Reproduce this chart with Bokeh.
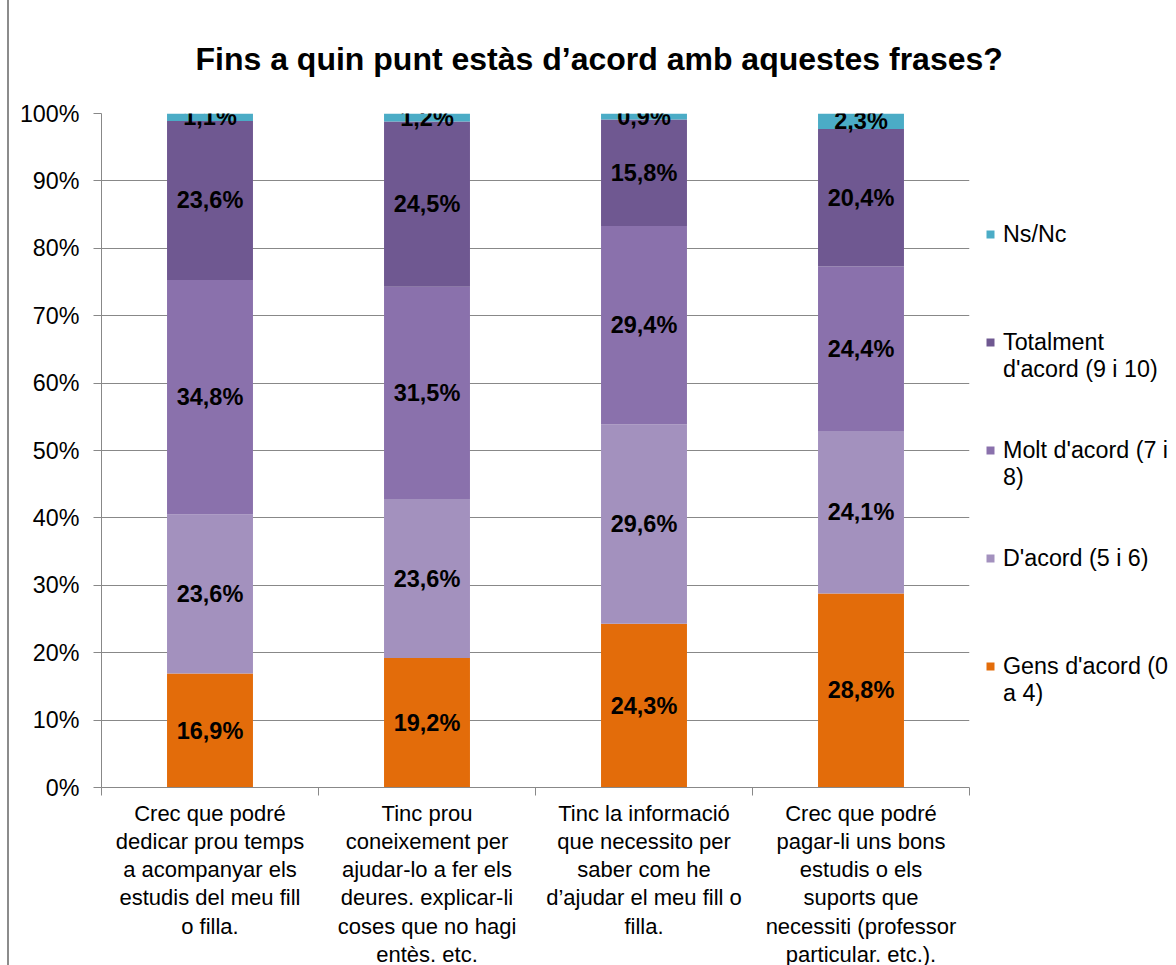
import numpy as np
from bokeh.plotting import figure
from bokeh.models import (Legend, LegendItem, FixedTicker, PrintfTickFormatter,
                          Range1d, Title, ColumnDataSource)
from bokeh.core.properties import value
from bokeh.embed import file_html
from bokeh.resources import INLINE

# ---------------- data ----------------
categories = [
    "Crec que podré\ndedicar prou temps\na acompanyar els\nestudis del meu fill\no filla.",
    "Tinc prou\nconeixement per\najudar-lo a fer els\ndeures. explicar-li\ncoses que no hagi\nentès. etc.",
    "Tinc la informació\nque necessito per\nsaber com he\nd’ajudar el meu fill o\nfilla.",
    "Crec que podré\npagar-li uns bons\nestudis o els\nsuports que\nnecessiti (professor\nparticular. etc.).",
]
series_keys = ["gens", "dacord", "molt", "total", "nsnc"]
# legend labels, wrapped as in the reference
series_labels = ["Gens d'acord (0\na 4)", "D'acord (5 i 6)", "Molt d'acord (7 i\n8)",
                 "Totalment\nd'acord (9 i 10)", "Ns/Nc"]
gens = [16.9, 19.2, 24.3, 28.8]
dacord = [23.6, 23.6, 29.6, 24.1]
molt = [34.8, 31.5, 29.4, 24.4]
total = [23.6, 24.5, 15.8, 20.4]
nsnc = [1.1, 1.2, 0.9, 2.3]
colors = ["#E36C0A", "#A391BE", "#8A71AC", "#6F5891", "#4BACC6"]
title_text = "Fins a quin punt estàs d’acord amb aquestes frases?"

FONT = "Liberation Sans"
GRID = "#888888"
FW, FH = 868, 674
LEG_FS = 23.3
ITEM_H, ITEM_SP = 81, 27

n = len(categories)
xs = np.arange(1, n + 1)
data = dict(x=xs, gens=gens, dacord=dacord, molt=molt, total=total, nsnc=nsnc)
source = ColumnDataSource(data)

p = figure(frame_width=FW, frame_height=FH, x_range=Range1d(0.5, n + 0.5), y_range=Range1d(0, 100),
           output_backend="svg", toolbar_location=None,
           min_border_left=92, min_border_right=207, min_border_top=113, min_border_bottom=0)
p.outline_line_color = None
p.background_fill_color = "white"
p.border_fill_color = "white"
p.styles = {"border-left": "2px solid #8c8c8c", "margin-left": "7px"}

renderers = p.vbar_stack(series_keys, x="x", width=0.396, color=colors, source=source,
                         line_color=None)

# data labels
arrs = [gens, dacord, molt, total, nsnc]
cum = np.zeros(n)
lx, ly, lt = [], [], []
for arr in arrs:
    a = np.array(arr)
    mid = cum + a / 2
    cum = cum + a
    for i in range(n):
        lx.append(xs[i])
        ly.append(mid[i])
        lt.append(f"{a[i]:.1f}".replace(".", ",") + "%")
p.text(x=lx, y=ly, text=lt, text_align="center", text_baseline="middle",
       text_font=value(FONT), text_font_style="bold", text_font_size="23.5px",
       text_color="black")

# title
t = Title(text=title_text, align="left", offset=94, standoff=74,
          text_font=FONT, text_font_style="bold", text_font_size="32px", text_color="black")
p.add_layout(t, "above")

# y axis
yax = p.yaxis[0]
yax.ticker = FixedTicker(ticks=list(range(0, 101, 10)))
yax.formatter = PrintfTickFormatter(format="%d%%")
yax.major_tick_out = 8
yax.major_tick_in = 0
yax.minor_tick_out = 0
yax.minor_tick_in = 0
yax.axis_line_color = GRID
yax.major_tick_line_color = GRID
yax.major_label_text_font = FONT
yax.major_label_text_font_size = "23.3px"
yax.major_label_text_color = "black"
yax.major_label_standoff = 14

p.ygrid.ticker = FixedTicker(ticks=list(range(0, 101, 10)))
p.ygrid.grid_line_color = GRID
p.xgrid.grid_line_color = None

# x axis
xax = p.xaxis[0]
bounds = list(np.concatenate([xs - 0.5, [xs[-1] + 0.5]]))
xax.ticker = FixedTicker(ticks=list(xs), minor_ticks=bounds)
xax.major_label_overrides = {int(x): c for x, c in zip(xs, categories)}
xax.major_tick_out = 0
xax.major_tick_in = 0
xax.minor_tick_out = 8
xax.minor_tick_in = 0
xax.minor_tick_line_color = GRID
xax.axis_line_color = GRID
xax.major_label_text_font = FONT
xax.major_label_text_font_size = "22px"
xax.major_label_text_color = "black"
xax.major_label_text_line_height = 1.13
xax.major_label_standoff = 5

# legend (reverse order). Wrapped labels get a leading empty line so that the
# marker lines up with the first text line, as in the reference.
order = list(range(len(series_keys)))[::-1]
def leg_label(s):
    return ("\n" + s) if "\n" in s else s
items = [LegendItem(label=leg_label(series_labels[i]), renderers=[renderers[i]]) for i in order]
leg_h = len(items) * ITEM_H + (len(items) - 1) * ITEM_SP
legend = Legend(items=items, location=(16, (FH - leg_h) / 2), orientation="vertical",
                glyph_width=10, glyph_height=10, label_standoff=8, spacing=ITEM_SP,
                label_height=ITEM_H, padding=0, margin=0, border_line_color=None,
                background_fill_alpha=0, label_text_font=FONT,
                label_text_font_size=f"{LEG_FS}px", label_text_color="black",
                label_text_line_height=1.0)
p.add_layout(legend, "right")

open("out.html", "w").write(file_html(p, INLINE))
